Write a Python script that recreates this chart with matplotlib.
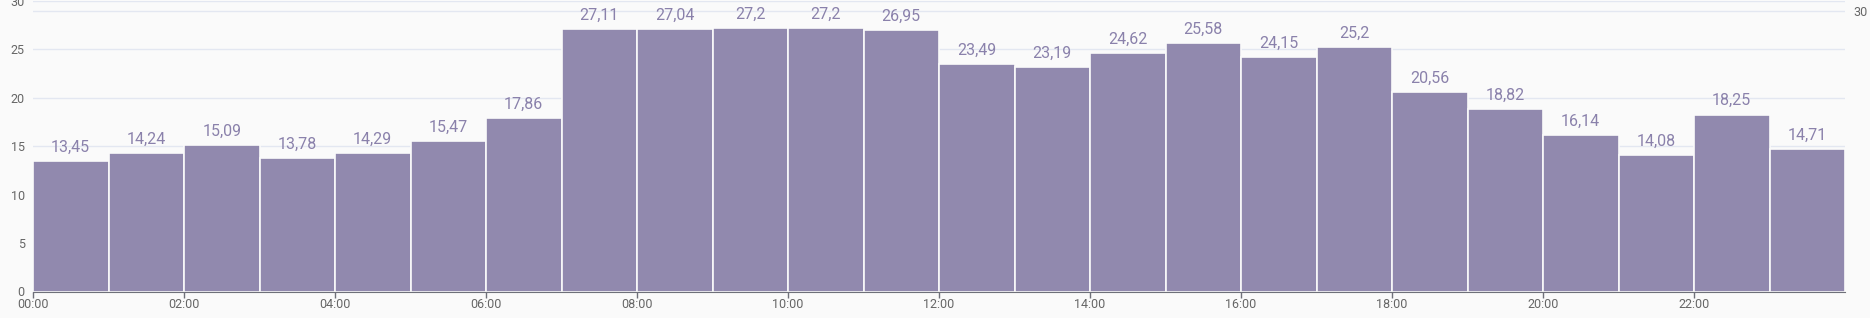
import matplotlib.pyplot as plt
import numpy as np

hours = np.arange(24)
values = [13.45, 14.24, 15.09, 13.78, 14.29, 15.47, 17.86, 27.11, 27.04, 27.2,
          27.2, 26.95, 23.49, 23.19, 24.62, 25.58, 24.15, 25.2, 20.56, 18.82,
          16.14, 14.08, 18.25, 14.71]
value_labels = [f'{v:g}'.replace('.', ',') for v in values]
tick_hours = np.arange(0, 24, 2)
tick_labels = [f'{h:02d}:00' for h in tick_hours]

plt.rcParams['font.family'] = ['Roboto', 'DejaVu Sans']

fig = plt.figure(figsize=(18.7, 3.18), dpi=100, facecolor='#fafafa')
ax = fig.add_axes([33 / 1870, 26.5 / 318, (1845 - 33) / 1870, (291.5 - 0.6) / 318])
ax.set_facecolor('#fafafa')

bars = ax.bar(hours, values, width=1.0, align='edge', color='#9189ae',
              edgecolor='#fafafa', linewidth=1.2, zorder=3)
for b, lab in zip(bars, value_labels):
    ax.annotate(lab, (b.get_x() + b.get_width() / 2, b.get_height()),
                xytext=(0, 4.5), textcoords='offset points', ha='center', va='bottom',
                fontsize=11.5, color='#8a81ab', zorder=4)

ax.set_xlim(0, 24)
ax.set_ylim(0, 30)
ax.set_yticks([0, 5, 10, 15, 20, 25, 30])
ax.set_xticks(tick_hours)
ax.set_xticklabels(tick_labels)
ax.grid(axis='y', color='#e3e7f1', linewidth=1, zorder=0)
ax.tick_params(axis='y', length=0, labelsize=9, labelcolor='#666666', pad=6)
ax.tick_params(axis='x', length=4, width=1, color='#6e7079', labelsize=9,
               labelcolor='#666666', pad=1)
for s in ['top', 'right', 'left']:
    ax.spines[s].set_visible(False)
ax.spines['bottom'].set_color('#6e7079')
ax.spines['bottom'].set_zorder(5)

ax2 = ax.twinx()
ax2.set_ylim(0, 30 * 290.9 / 280.5)
ax2.set_yticks([30])
ax2.grid(axis='y', color='#e3e7f1', linewidth=1, zorder=0)
ax2.tick_params(axis='y', length=0, labelsize=9, labelcolor='#666666', pad=6)
for s in ax2.spines.values():
    s.set_visible(False)
ax2.set_zorder(-1)
ax.patch.set_visible(False)
ax2.patch.set_visible(True)
ax2.patch.set_facecolor('#fafafa')

fig.savefig('out.png', dpi=100, facecolor=fig.get_facecolor())
